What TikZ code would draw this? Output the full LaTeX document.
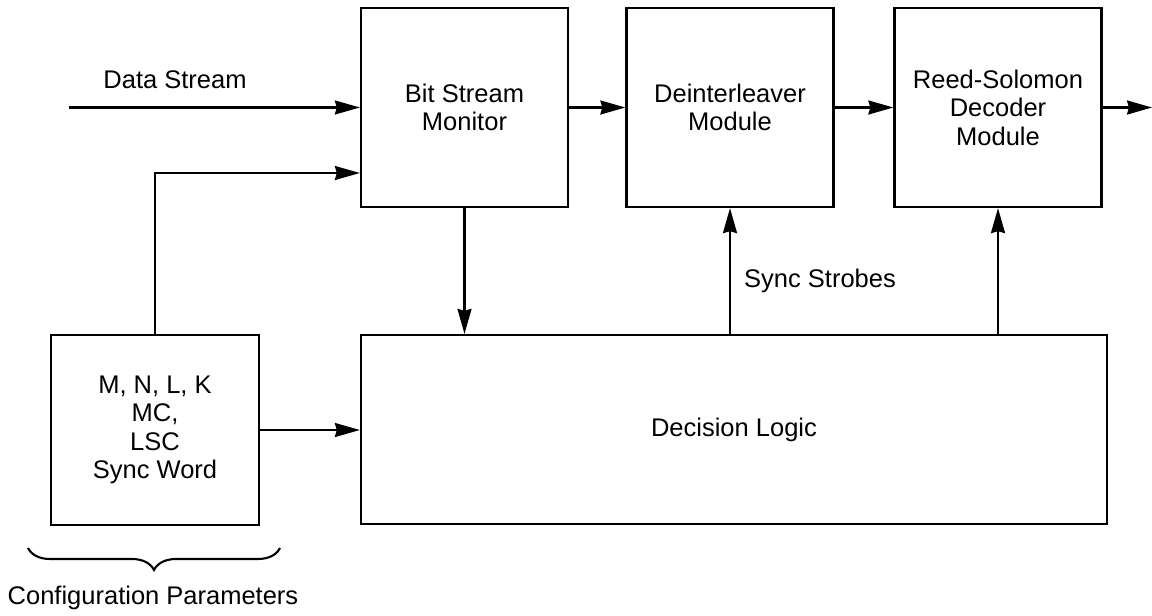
\documentclass[tikz,border=0pt]{standalone}
\usepackage{fontspec}
\setmainfont{Liberation Sans}
\usetikzlibrary{arrows.meta,decorations.pathreplacing,calc}
\begin{document}
\begin{tikzpicture}[x=1pt,y=-1pt,
  every node/.style={font=\fontsize{25.5}{28.5}\selectfont, inner sep=0pt},
  blk/.style={draw, line width=2.3pt, minimum width=207pt, minimum height=199pt, align=center},
  arr/.style={line width=2.1pt, -{Stealth[length=25pt,width=14pt,inset=2pt]}},
  ln/.style={line width=2.1pt}]
\useasboundingbox (0,0) rectangle (1152,616);
\node[blk] (bsm) at (464.5,107.5) {Bit Stream\\Monitor};
\node[blk] (dil) at (730,107.5) {Deinterleaver\\Module};
\node[blk] (rs) at (998,107.5) {Reed-Solomon\\Decoder\\Module};
\node[blk, minimum width=208pt, minimum height=190pt] (cfg) at (155,430) {M, N, L, K\\MC,\\LSC\\Sync Word};
\node[blk, minimum width=746pt, minimum height=189pt] (dec) at (734,429.5) {Decision Logic};
\coordinate (dsin) at (69,107.5);
\coordinate (cfgy) at (0,173);
\coordinate (out) at (1152,107.5);
\node[anchor=center] (dslbl) at (175,80) {Data Stream};
\node[anchor=west] (sslbl) at (744,281) {Sync Strobes};
\node (cplbl) at (153,598) {Configuration Parameters};
\draw[arr] (dsin) -- (bsm.west);
\draw[arr] (cfg.north) |- (bsm.west |- cfgy);
\draw[arr] (bsm.east) -- (dil.west);
\draw[arr] (dil.east) -- (rs.west);
\draw[arr] (rs.east) -- (out);
\draw[arr] (bsm.south) -- (bsm.south |- dec.north);
\draw[arr] (dil.south |- dec.north) -- (dil.south);
\draw[arr] (rs.south |- dec.north) -- (rs.south);
\draw[arr] (cfg.east) -- (cfg.east -| dec.west);
\coordinate (brl) at (28,548);
\coordinate (brr) at (280,548);
\draw[ln, decorate, decoration={brace, mirror, amplitude=22pt}] (brl) -- (brr);
\end{tikzpicture}
\end{document}
